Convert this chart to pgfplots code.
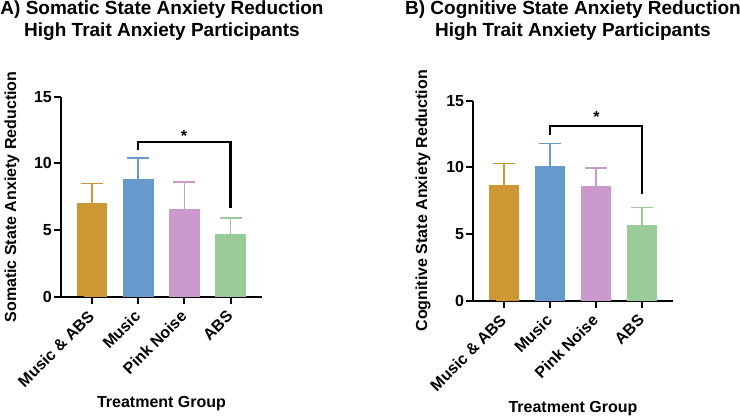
\documentclass[border=0pt]{standalone}
\usepackage{fontspec}
\setmainfont{Liberation Sans}
\usepackage{pgfplots}
\pgfplotsset{compat=1.18}
\definecolor{cOr}{RGB}{205,152,51}
\definecolor{cBl}{RGB}{102,153,204}
\definecolor{cPk}{RGB}{204,153,204}
\definecolor{cGr}{RGB}{153,204,153}
\newcommand{\fs}{\bfseries\fontsize{16bp}{19bp}\selectfont}
\newcommand{\ft}{\bfseries\fontsize{19bp}{22bp}\selectfont}
\pgfplotsset{
 mystyle/.style={
  scale only axis, height=200bp, anchor=south west,
  xmin=-0.67, xmax=3.68, ymin=0, ymax=15,
  axis x line=bottom, axis y line=left,
  axis line style={-, line width=2bp},
  xtick={0,1,2,3}, xticklabels={Music \& ABS, Music, Pink Noise, ABS},
  ytick={0,5,10,15},
  tick align=outside, major tick length=7bp,
  tick style={line width=2bp, black},
  x tick label style={rotate=45, anchor=east, font=\fs, inner sep=1bp},
  xticklabel shift=9bp,
  y tick label style={font=\fs, inner sep=2bp},
  /pgf/number format/assume math mode=true,
  clip=false,
 },
 mybar/.style={ybar, bar width=30.7bp, bar shift=0pt, fill=#1, draw=none, mark=none,
   error bars/.cd, y dir=plus, y explicit,
   error bar style={#1, line width=1.4bp},
   error mark options={#1, rotate=90, mark size=11bp, line width=1.4bp}},
}
\begin{document}
\begin{tikzpicture}
\path[use as bounding box] (0,0) rectangle (740bp,417bp);
% Titles
\node[anchor=base, font=\ft] at (162bp,402bp) {A) Somatic State Anxiety Reduction};
\node[anchor=base, font=\ft] at (162bp,380bp) {High Trait Anxiety Participants};
\node[anchor=base, font=\ft] at (573bp,402bp) {B) Cognitive State Anxiety Reduction};
\node[anchor=base, font=\ft] at (573bp,380bp) {High Trait Anxiety Participants};
% Axis labels
\node[anchor=base, font=\fs] at (161.5bp,10bp) {Treatment Group};
\node[anchor=base, font=\fs] at (573bp,5bp) {Treatment Group};
\node[rotate=90, font=\fs] at (12bp,220bp) {Somatic State Anxiety Reduction};
\node[rotate=90, font=\fs] at (423bp,216.3bp) {Cognitive State Anxiety Reduction};

\begin{axis}[mystyle, width=201bp, at={(61bp,120.3bp)}]
\addplot[mybar=cOr] coordinates {(0,7.0) +- (0,1.5)};
\addplot[mybar=cBl] coordinates {(1,8.8) +- (0,1.6)};
\addplot[mybar=cPk] coordinates {(2,6.6) +- (0,2.0)};
\addplot[mybar=cGr] coordinates {(3,4.7) +- (0,1.2)};
\draw[line width=2bp] (axis cs:-0.67,0) -- ++(-8bp,0);
\draw[line width=2.6bp] (axis cs:1,11.0) -- (axis cs:1,11.6) -- (axis cs:3,11.6) -- (axis cs:3,6.65);
\node[anchor=base, font=\fs] at (axis cs:1.99,11.65) {*};
\end{axis}

\begin{axis}[mystyle, width=200bp, at={(473.3bp,116.3bp)}]
\addplot[mybar=cOr] coordinates {(0,8.7) +- (0,1.6)};
\addplot[mybar=cBl] coordinates {(1,10.1) +- (0,1.7)};
\addplot[mybar=cPk] coordinates {(2,8.6) +- (0,1.35)};
\addplot[mybar=cGr] coordinates {(3,5.7) +- (0,1.3)};
\draw[line width=2bp] (axis cs:-0.67,0) -- ++(-8bp,0);
\draw[line width=2.6bp] (axis cs:1,12.4) -- (axis cs:1,13.1) -- (axis cs:3,13.1) -- (axis cs:3,8.0);
\node[anchor=base, font=\fs] at (axis cs:2.01,13.36) {*};
\end{axis}
\end{tikzpicture}
\end{document}
